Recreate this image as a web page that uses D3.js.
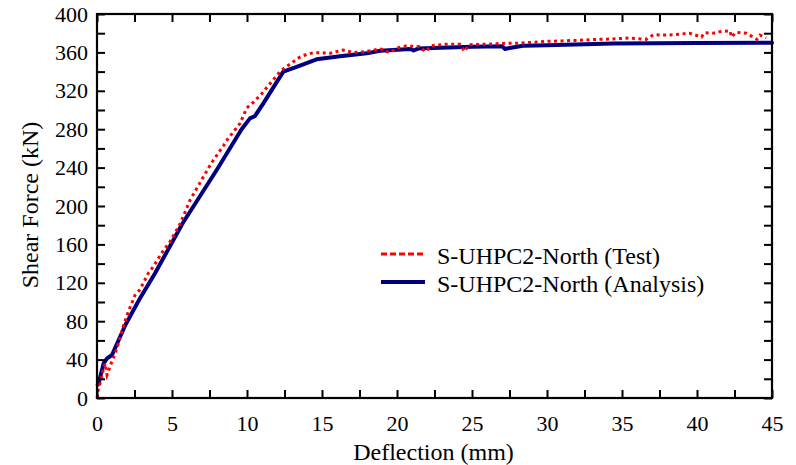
<!DOCTYPE html>
<html>
<head>
<meta charset="utf-8">
<script src="https://cdn.jsdelivr.net/npm/d3@7"></script>
<style>
  html, body { margin: 0; padding: 0; background: #fff; }
  svg { display: block; }
  svg text { font-family: "Liberation Serif", Tinos, "Times New Roman", Times, "DejaVu Serif", serif !important; fill: #000; }
</style>
</head>
<body>
<svg id="chart" width="796" height="465"></svg>
<script>
// ---- Data ----
const seriesNames = ["S-UHPC2-North (Test)", "S-UHPC2-North (Analysis)"];

const testDeflection = [0, 0.05, 0.07, 0.2, 0.35, 0.44, 0.55, 0.67, 0.75, 0.89, 1.18, 1.49, 1.78, 2.09, 2.53, 2.87, 3.42, 3.76, 4.31, 4.87, 5.53, 6.2, 6.6, 7.15, 7.64, 8.04, 8.42, 8.75, 9.09, 9.53, 9.98, 10.42, 10.98, 11.64, 12.2, 12.6, 12.98, 13.3, 13.64, 14.0, 14.42, 15.09, 15.53, 16.0, 16.4, 17.1, 17.75, 18.4, 18.87, 19.5, 20.0, 20.6, 21.5, 21.9, 22.3, 23.2, 24.2, 24.5, 24.8, 26.0, 27.1, 28.0, 29.0, 30.0, 31.0, 32.0, 33.2, 34.4, 35.5, 36.6, 37.1, 38.0, 38.5, 39.5, 40.3, 40.5, 41.1, 41.5, 42.2, 42.3, 42.6, 43.3, 44.0, 44.2, 44.6];
const testForce      = [0, 3, 8, 15, 24, 32, 36, 24, 27, 34, 45, 60, 76, 90, 107, 113, 130, 137, 151, 163, 181, 206, 217, 232, 245, 254, 262.5, 270.5, 277, 286, 302, 308, 317, 329.5, 340, 345, 349, 353, 356, 358, 359.7, 359.5, 359, 361, 362.5, 359.7, 360.7, 362, 364, 359.7, 364.5, 366.7, 366, 360.7, 367, 368.4, 368.5, 361, 368, 368.5, 369.4, 369.5, 370.5, 371.5, 372, 372.5, 373.5, 374, 375, 373.6, 378.4, 378, 378.5, 380, 376, 380.5, 380, 381.5, 382.5, 376, 381, 380, 373.6, 378, 375];

const analysisDeflection = [0.05, 0.11, 0.44, 0.67, 1.0, 1.89, 2.87, 3.87, 5.71, 7.98, 9.64, 10.2, 10.53, 11.09, 12.42, 13.31, 14.64, 16.2, 17.98, 18.87, 20.9, 21.1, 21.4, 25.0, 27.0, 27.2, 27.5, 28.4, 30.0, 34.4, 40.0, 45.0];
const analysisForce      = [14, 15.3, 36, 41.3, 44.8, 76, 104, 130, 182, 237.5, 280, 291.3, 293.7, 307, 340, 345, 352.8, 356, 359, 361.8, 363.5, 362, 364, 366, 366.5, 363.5, 364.5, 367, 367.5, 369.4, 369.7, 370];

const xTicks = d3.range(0, 45.01, 2.5);
const yTicks = d3.range(0, 400.01, 20);
const xLabelStep = 5;
const yLabelStep = 40;
const xTitle = "Deflection (mm)";
const yTitle = "Shear Force (kN)";

// ---- Layout ----
const W = 796, H = 465;
const margin = { left: 97, top: 14, right: 24, bottom: 67 };
const iw = W - margin.left - margin.right;
const ih = H - margin.top - margin.bottom;
const FONT = "'Liberation Serif', Tinos, 'Times New Roman', Times, 'DejaVu Serif', serif";

const svg = d3.select("#chart");
const g = svg.append("g").attr("transform", `translate(${margin.left},${margin.top})`);

const x = d3.scaleLinear().domain([0, 45]).range([0, iw]);
const y = d3.scaleLinear().domain([0, 400]).range([ih, 0]);

// ---- Curves ----
const testData = testDeflection.map((d, i) => [d, testForce[i]]);
const anaData = analysisDeflection.map((d, i) => [d, analysisForce[i]]);
const line = d3.line().x(d => x(d[0])).y(d => y(d[1]));

g.append("path").datum(anaData)
  .attr("d", line).attr("fill", "none")
  .attr("stroke", "#00007f").attr("stroke-width", 4)
  .attr("stroke-linejoin", "round").attr("stroke-linecap", "round");

g.append("path").datum(testData)
  .attr("d", line).attr("fill", "none")
  .attr("stroke", "#ff0000").attr("stroke-width", 3)
  .attr("stroke-dasharray", "3,3.5");

// ---- Axes ----
const fmtX = d => (Math.abs(d % xLabelStep) < 1e-9 ? d3.format("d")(d) : "");
const fmtY = d => (Math.abs(d % yLabelStep) < 1e-9 ? d3.format("d")(d) : "");

function styleAxis(sel) {
  sel.attr("font-family", FONT).attr("font-size", 22);
  sel.select(".domain").remove();
  sel.selectAll(".tick line").attr("stroke", "#000").attr("stroke-width", 2);
  sel.selectAll(".tick text").attr("font-family", FONT).style("font-size", "22px").attr("fill", "#000");
}

g.append("g").attr("transform", `translate(0,${ih})`)
  .call(d3.axisBottom(x).tickValues(xTicks).tickFormat(fmtX).tickSizeInner(-8).tickSizeOuter(0).tickPadding(17))
  .call(styleAxis);
g.append("g")
  .call(d3.axisTop(x).tickValues(xTicks).tickFormat("").tickSizeInner(-8).tickSizeOuter(0))
  .call(styleAxis);
g.append("g")
  .call(d3.axisLeft(y).tickValues(yTicks).tickFormat(fmtY).tickSizeInner(-8).tickSizeOuter(0).tickPadding(9))
  .call(styleAxis);
g.append("g").attr("transform", `translate(${iw},0)`)
  .call(d3.axisRight(y).tickValues(yTicks).tickFormat("").tickSizeInner(-8).tickSizeOuter(0))
  .call(styleAxis);

// frame
g.append("rect").attr("x", 0).attr("y", 0).attr("width", iw).attr("height", ih)
  .attr("fill", "none").attr("stroke", "#000").attr("stroke-width", 2.2);

// ---- Titles ----
svg.append("text").attr("x", margin.left + iw / 2 - 1).attr("y", 460)
  .attr("font-family", FONT).attr("text-anchor", "middle").style("font-size", "24px").text(xTitle);
svg.append("text").attr("transform", "translate(38,205) rotate(-90)")
  .attr("font-family", FONT).attr("text-anchor", "middle").style("font-size", "24px").text(yTitle);

// ---- Legend ----
const legend = svg.append("g");
const legItems = [
  { name: seriesNames[0], color: "#ff0000", w: 3, dash: "6,3", y: 254 },
  { name: seriesNames[1], color: "#00007f", w: 4, dash: null, y: 282 }
];
legItems.forEach(it => {
  legend.append("line").attr("x1", 381).attr("x2", 425).attr("y1", it.y).attr("y2", it.y)
    .attr("stroke", it.color).attr("stroke-width", it.w)
    .attr("stroke-dasharray", it.dash);
  legend.append("text").attr("x", 437).attr("y", it.y + 9.5)
    .attr("font-family", FONT).style("font-size", "24px").text(it.name);
});
</script>
</body>
</html>
